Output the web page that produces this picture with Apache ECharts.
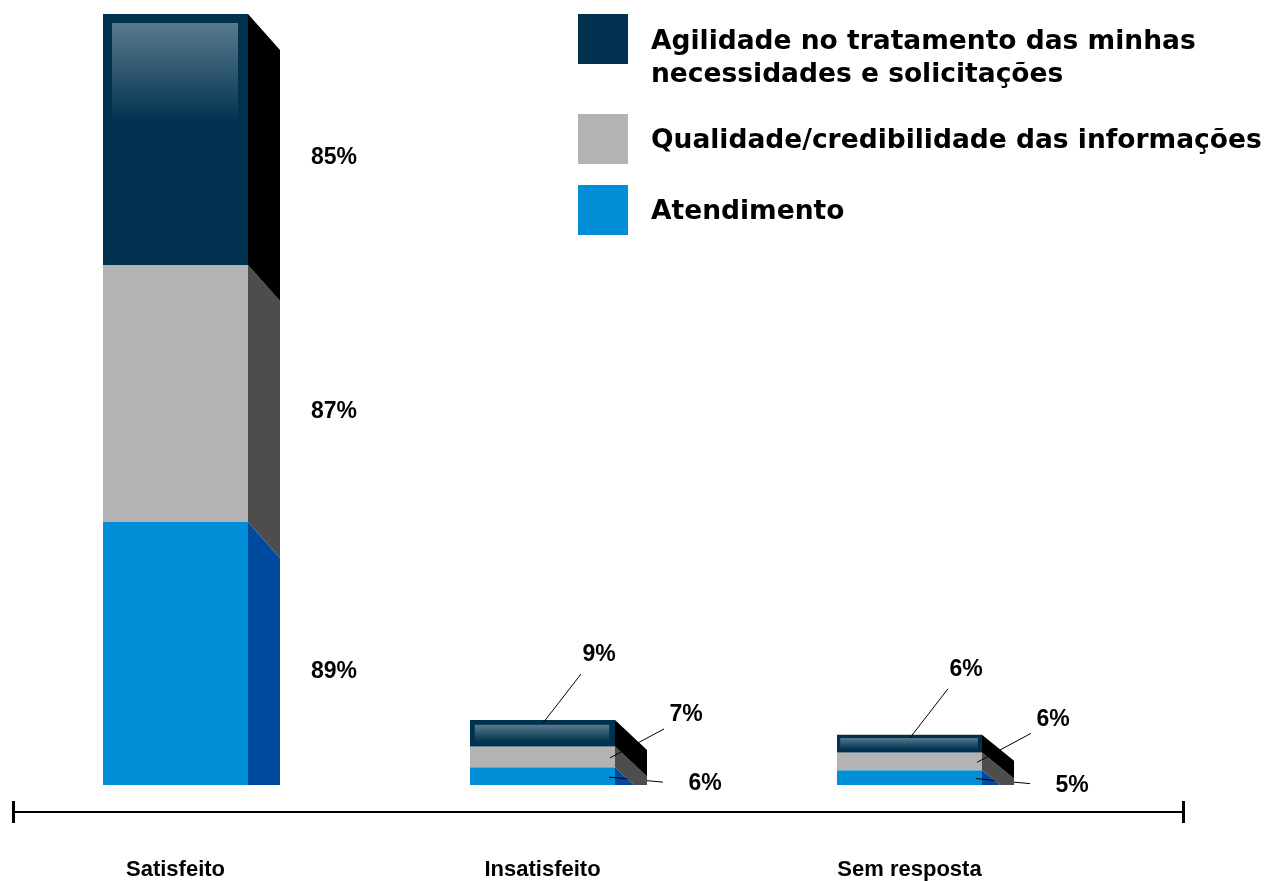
<!DOCTYPE html>
<html>
<head>
<meta charset="utf-8">
<script src="https://cdn.jsdelivr.net/npm/echarts@6/dist/echarts.min.js"></script>
<style>
html, body { margin: 0; padding: 0; background: #fff; }
#main { width: 1274px; height: 881px; }
</style>
</head>
<body>
<div id="main"></div>
<script>
var myChart = echarts.init(document.getElementById('main'));

// data
var categories = ['Satisfeito', 'Insatisfeito', 'Sem resposta'];
var seriesNames = [
    'Atendimento',
    'Qualidade/credibilidade das informações',
    'Agilidade no tratamento das minhas necessidades e solicitações'
];
var atendimento = [89, 6, 5];
var qualidade = [87, 7, 6];
var agilidade = [85, 9, 6];

var values = [atendimento, qualidade, agilidade];

// look
var frontColors = ['#008fd6', '#b3b3b3', '#00324f'];
var sideColors = ['#004a9e', '#4d4d4d', '#000000'];
var FRONT_W = 145;
var DEPTH_X = 32;
var DEPTH_Y = [36, 30, 26];
var LABEL_FONT = 'bold 23px "Liberation Sans", Arial, sans-serif';

// leader line for small stacks: [anchor dx, anchor dy, end dx, end dy, text dx, text dy]
var leaders = [
    [-6, 1, 54, 5, 42, 2],
    [-5, 1, 54, -29, 22, -14],
    [-72, 3, 38, -49, 18, -19]
];

// stack the values
var stacked = [];
var bases = categories.map(function () { return 0; });
for (var s = 0; s < values.length; s++) {
    var rows = [];
    for (var i = 0; i < categories.length; i++) {
        var v = values[s][i];
        rows.push([i, bases[i] + v, bases[i], v]);
        bases[i] += v;
    }
    stacked.push(rows);
}
var yMax = Math.max.apply(null, bases);

// cut the side face at the baseline
function clipBelow(points, limit) {
    var out = [];
    for (var k = 0; k < points.length; k++) {
        var a = points[k], b = points[(k + 1) % points.length];
        var aIn = a[1] <= limit, bIn = b[1] <= limit;
        if (aIn) out.push(a);
        if (aIn !== bIn) {
            var t = (limit - a[1]) / (b[1] - a[1]);
            out.push([a[0] + t * (b[0] - a[0]), limit]);
        }
    }
    return out;
}

function makeRender(sIdx) {
    return function (params, api) {
        var cat = api.value(0);
        var pTop = api.coord([cat, api.value(1)]);
        var pBase = api.coord([cat, api.value(2)]);
        var zeroY = api.coord([cat, 0])[1];
        var x0 = pTop[0] - FRONT_W / 2, x1 = pTop[0] + FRONT_W / 2;
        var yT = pTop[1], yB = pBase[1], h = yB - yT;
        var dy = DEPTH_Y[cat];
        var children = [];

        var side = clipBelow([[x1, yT], [x1 + DEPTH_X, yT + dy], [x1 + DEPTH_X, yB + dy], [x1, yB]], zeroY);
        if (side.length > 2) {
            children.push({ type: 'polygon', shape: { points: side }, style: { fill: sideColors[sIdx] } });
        }
        children.push({ type: 'rect', shape: { x: x0, y: yT, width: FRONT_W, height: h }, style: { fill: frontColors[sIdx] } });

        if (sIdx === 2) {
            var inset = Math.max(3, Math.min(9, h * 0.18));
            children.push({
                type: 'rect',
                shape: { x: x0 + inset, y: yT + inset, width: FRONT_W - 2 * inset - 1, height: Math.min(h - 2 * inset, 100) },
                style: {
                    fill: new echarts.graphic.LinearGradient(0, 0, 0, 1, [
                        { offset: 0, color: 'rgba(255,255,255,0.35)' },
                        { offset: 1, color: 'rgba(255,255,255,0)' }
                    ])
                }
            });
        }

        var text = api.value(3) + '%';
        var mid = (yT + yB) / 2;
        if (h > 60) {
            children.push({
                type: 'text',
                style: { text: text, x: x1 + 63, y: mid + dy / 2, align: 'left', verticalAlign: 'middle', font: LABEL_FONT, fill: '#000' }
            });
        } else {
            var L = leaders[sIdx];
            var ax = x1 + L[0];
            var ay = (sIdx === 2 ? yT : mid) + L[1];
            var ex = ax + L[2], ey = ay + L[3];
            children.push({ type: 'line', shape: { x1: ax, y1: ay, x2: ex, y2: ey }, style: { stroke: '#000', lineWidth: 1 } });
            children.push({
                type: 'text',
                style: { text: text, x: ex + L[4], y: ey + L[5], align: 'center', verticalAlign: 'middle', font: LABEL_FONT, fill: '#000' }
            });
        }
        return { type: 'group', children: children };
    };
}

var series = [];
for (var s2 = 0; s2 < seriesNames.length; s2++) {
    series.push({
        name: seriesNames[s2],
        type: 'custom',
        xAxisIndex: 0,
        yAxisIndex: 0,
        renderItem: makeRender(s2),
        itemStyle: { color: frontColors[s2] },
        encode: { x: 0, y: [1, 2] },
        data: stacked[s2]
    });
}

var legendText = {
    fontFamily: '"DejaVu Sans", sans-serif',
    fontWeight: 'bold',
    fontSize: 26.5,
    color: '#000',
    padding: [0, 0, 0, 18]
};

// square at the top of a taller item box, so the text sits a bit lower
var tallSquare = 'path://M0,0H50V50H0Z M0,90L0.01,90L0,90Z';
var shortSquare = 'path://M0,0H50V50H0Z M0,55L0.01,55L0,55Z';

option = {
    animation: false,
    backgroundColor: '#fff',
    legend: [
        {
            data: [seriesNames[2]],
            left: 578, top: 14, padding: 0,
            icon: tallSquare, itemWidth: 50, itemHeight: 90,
            selectedMode: false,
            formatter: function (n) { return n.replace(' necessidades', '\nnecessidades'); },
            textStyle: Object.assign({ lineHeight: 33 }, legendText)
        },
        {
            data: [seriesNames[1]],
            left: 578, top: 114, padding: 0,
            icon: shortSquare, itemWidth: 50, itemHeight: 55,
            selectedMode: false,
            textStyle: legendText
        },
        {
            data: [seriesNames[0]],
            left: 578, top: 185, padding: 0,
            icon: shortSquare, itemWidth: 50, itemHeight: 55,
            selectedMode: false,
            textStyle: legendText
        }
    ],
    grid: [
        { left: 175.5, right: 364.5, top: 14, bottom: 96 },
        { left: 13, right: 91, top: 14, bottom: 69 }
    ],
    xAxis: [
        {
            gridIndex: 0,
            type: 'category',
            boundaryGap: false,
            data: categories,
            axisLine: { show: false },
            axisTick: { show: false },
            splitLine: { show: false },
            axisLabel: {
                margin: 74,
                color: '#000',
                fontFamily: '"Liberation Sans", Arial, sans-serif',
                fontWeight: 'bold',
                fontSize: 22
            }
        },
        {
            gridIndex: 1,
            type: 'value',
            min: 0, max: 1, interval: 1,
            axisLine: { show: true, lineStyle: { color: '#000', width: 2 } },
            axisTick: { show: true, length: 11, lineStyle: { color: '#000', width: 3 } },
            axisLabel: { show: false },
            splitLine: { show: false }
        },
        {
            gridIndex: 1,
            type: 'value',
            position: 'bottom',
            min: 0, max: 1, interval: 1,
            axisLine: { show: false },
            axisTick: { show: true, inside: true, length: 11, lineStyle: { color: '#000', width: 3 } },
            axisLabel: { show: false },
            splitLine: { show: false }
        }
    ],
    yAxis: [
        { gridIndex: 0, type: 'value', min: 0, max: yMax, show: false, splitLine: { show: false } },
        { gridIndex: 1, type: 'value', min: 0, max: 1, show: false, splitLine: { show: false } }
    ],
    series: series
};

myChart.setOption(option);
</script>
</body>
</html>
